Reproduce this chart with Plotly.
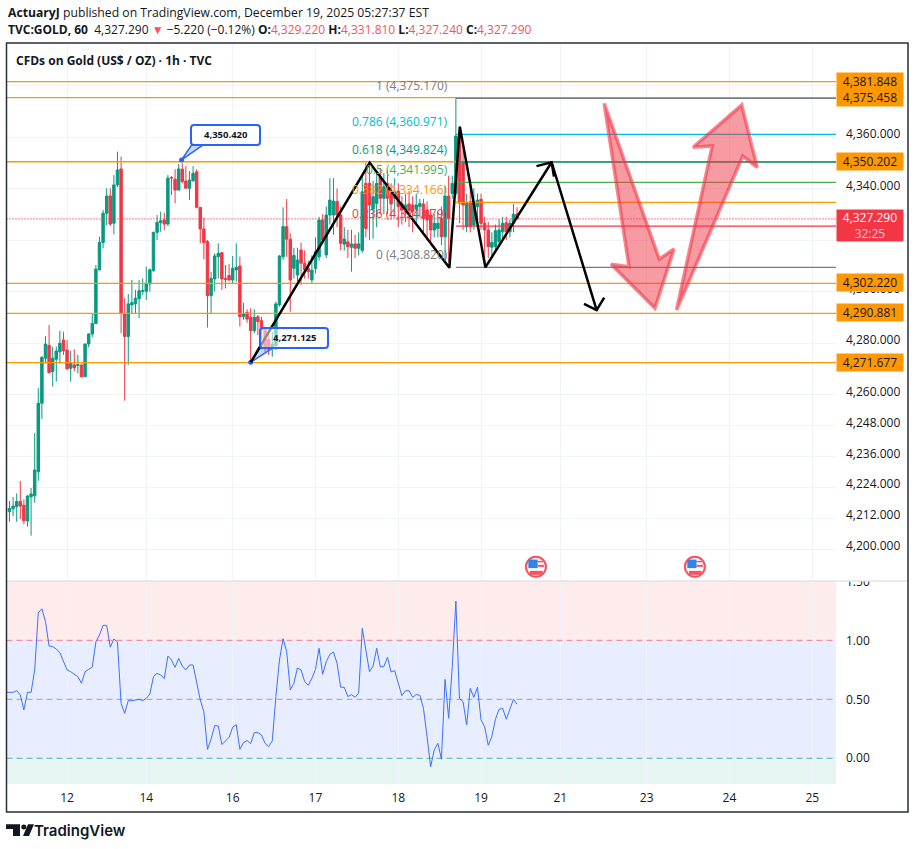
import plotly.graph_objects as go

W, H = 915, 849

# hourly candles
bar_open = [4214.5, 4215.7, 4216.5, 4218.5, 4217.0, 4210.9, 4220.3, 4220.7, 4230.0, 4256.6,
            4274.1, 4279.1, 4268.9, 4273.7, 4276.6, 4281.2, 4277.3, 4270.2, 4271.5, 4271.3,
            4271.5, 4266.9, 4279.6, 4283.5, 4287.6, 4308.4, 4319.0, 4330.4, 4337.1, 4326.5,
            4341.4, 4347.6, 4291.5, 4282.5, 4294.8, 4295.2, 4297.2, 4300.1, 4300.1, 4302.9,
            4308.1, 4323.0, 4326.7, 4327.8, 4326.2, 4344.3, 4343.6, 4339.4, 4347.5, 4342.9,
            4340.1, 4343.0, 4346.5, 4332.7, 4324.3, 4319.4, 4298.4, 4304.9, 4313.5, 4315.1,
            4305.1, 4306.2, 4304.5, 4308.4, 4309.9, 4290.2, 4291.9, 4290.0, 4284.8, 4290.2,
            4288.7, 4285.1, 4281.4, 4277.9, 4279.0, 4294.8, 4313.5, 4325.2, 4320.3, 4309.0,
            4306.4, 4316.1, 4311.0, 4309.0, 4304.5, 4309.0, 4313.5, 4327.8, 4314.2, 4329.7,
            4329.7, 4335.0, 4329.7, 4318.4, 4319.3, 4317.2, 4318.5, 4316.8, 4316.0, 4342.0,
            4342.0, 4332.0, 4334.2, 4344.6, 4336.2, 4342.0, 4338.0, 4336.2, 4339.0, 4334.2,
            4331.7, 4334.0, 4333.6, 4332.0, 4333.0, 4334.0, 4331.6, 4329.7, 4323.9, 4324.5,
            4328.4, 4321.3, 4337.1, 4338.1, 4338.1, 4360.1, 4350.4, 4325.2, 4334.9, 4325.8,
            4333.0, 4335.8, 4326.5, 4323.9, 4317.2, 4317.4, 4319.4, 4323.2, 4326.7, 4323.2,
            4326.5, 4330.1]
bar_high = [4218.7, 4220.2, 4221.6, 4226.4, 4219.3, 4221.0, 4223.7, 4245.0, 4262.5, 4275.0,
            4282.7, 4287.0, 4278.6, 4278.6, 4284.8, 4284.4, 4281.2, 4277.0, 4277.6, 4275.4,
            4271.7, 4279.8, 4283.8, 4291.5, 4310.3, 4321.3, 4331.7, 4340.1, 4340.1, 4345.2,
            4354.3, 4352.4, 4297.4, 4299.0, 4304.5, 4300.6, 4304.5, 4305.1, 4309.7, 4309.0,
            4323.2, 4329.7, 4331.0, 4330.6, 4345.2, 4344.8, 4347.5, 4349.5, 4349.8, 4348.7,
            4346.8, 4348.7, 4347.5, 4332.7, 4328.8, 4320.0, 4307.7, 4314.8, 4318.7, 4315.3,
            4310.3, 4310.6, 4313.8, 4318.7, 4313.5, 4295.7, 4293.1, 4293.5, 4293.1, 4290.9,
            4290.2, 4285.7, 4285.1, 4284.4, 4296.1, 4314.2, 4332.7, 4335.9, 4322.6, 4317.0,
            4317.0, 4319.0, 4316.0, 4312.0, 4314.0, 4321.0, 4329.0, 4330.0, 4333.0, 4344.0,
            4344.0, 4340.0, 4333.0, 4325.0, 4324.0, 4324.0, 4322.0, 4323.0, 4345.0, 4350.0,
            4350.0, 4343.0, 4347.0, 4348.0, 4346.0, 4347.0, 4342.0, 4344.0, 4342.0, 4337.0,
            4338.0, 4339.0, 4337.0, 4338.0, 4336.0, 4336.0, 4335.0, 4332.0, 4330.0, 4331.0,
            4333.0, 4341.0, 4345.0, 4345.0, 4375.0, 4364.0, 4355.0, 4338.0, 4340.0, 4340.0,
            4338.0, 4338.0, 4329.0, 4327.0, 4323.0, 4326.0, 4328.0, 4329.0, 4329.0, 4328.0,
            4334.0, 4332.7]
bar_low = [4210.6, 4212.8, 4210.6, 4211.7, 4209.7, 4208.7, 4205.2, 4218.0, 4226.5, 4250.5,
           4272.1, 4268.2, 4263.1, 4265.0, 4272.1, 4275.4, 4269.5, 4265.0, 4268.9, 4268.2,
           4266.7, 4266.9, 4278.3, 4282.2, 4287.6, 4308.4, 4316.8, 4325.8, 4325.4, 4322.2,
           4340.5, 4283.8, 4257.6, 4271.5, 4291.5, 4291.5, 4289.6, 4298.7, 4296.7, 4300.0,
           4307.7, 4320.0, 4323.2, 4323.9, 4325.4, 4337.5, 4334.2, 4339.2, 4342.0, 4340.1,
           4335.5, 4342.7, 4332.3, 4318.7, 4312.5, 4286.0, 4291.5, 4300.0, 4305.1, 4300.6,
           4301.2, 4304.2, 4303.2, 4303.8, 4286.4, 4289.0, 4287.9, 4272.8, 4283.8, 4283.1,
           4281.2, 4276.6, 4275.4, 4274.7, 4277.3, 4294.1, 4312.2, 4313.5, 4292.2, 4305.0,
           4304.0, 4302.6, 4305.0, 4305.0, 4303.0, 4307.0, 4312.0, 4318.5, 4313.0, 4326.0,
           4322.0, 4325.0, 4316.0, 4316.0, 4313.0, 4307.7, 4313.0, 4314.0, 4315.0, 4321.0,
           4320.0, 4320.5, 4325.0, 4330.0, 4330.0, 4330.0, 4328.0, 4330.0, 4325.0, 4326.0,
           4327.0, 4325.0, 4323.0, 4326.0, 4329.0, 4323.0, 4320.0, 4319.0, 4321.0, 4321.0,
           4318.0, 4312.0, 4311.5, 4336.0, 4337.0, 4326.5, 4323.9, 4323.0, 4323.0, 4324.0,
           4325.0, 4324.0, 4309.0, 4313.0, 4313.0, 4315.0, 4318.0, 4320.0, 4320.0, 4321.0,
           4323.0, 4328.1]
bar_close = [4215.8, 4216.7, 4218.5, 4216.7, 4211.0, 4220.6, 4221.4, 4230.7, 4256.6, 4274.4,
             4279.6, 4268.5, 4274.1, 4276.9, 4279.9, 4277.0, 4270.0, 4272.1, 4270.4, 4271.6,
             4266.9, 4279.6, 4283.5, 4287.6, 4308.7, 4319.1, 4330.4, 4337.1, 4326.2, 4341.4,
             4347.2, 4291.5, 4282.5, 4295.2, 4295.7, 4297.4, 4300.3, 4300.3, 4303.2, 4308.4,
             4323.0, 4326.9, 4327.5, 4326.2, 4344.0, 4344.1, 4339.4, 4347.6, 4342.7, 4340.1,
             4343.3, 4345.9, 4332.7, 4324.3, 4319.0, 4298.4, 4305.1, 4313.8, 4314.8, 4304.9,
             4304.7, 4304.5, 4309.0, 4309.4, 4290.2, 4291.3, 4289.3, 4284.8, 4290.0, 4288.3,
             4285.1, 4278.0, 4277.6, 4279.5, 4295.2, 4313.8, 4325.2, 4320.3, 4304.5, 4314.0,
             4312.2, 4311.0, 4308.4, 4307.7, 4308.3, 4315.5, 4327.8, 4320.0, 4329.7, 4335.5,
             4335.1, 4329.7, 4318.7, 4320.4, 4317.4, 4318.5, 4316.8, 4318.5, 4338.7, 4324.5,
             4333.6, 4336.8, 4342.0, 4336.2, 4340.7, 4336.2, 4334.0, 4339.0, 4333.0, 4331.7,
             4333.6, 4331.5, 4331.0, 4333.6, 4334.2, 4328.4, 4327.8, 4323.9, 4326.5, 4326.5,
             4321.3, 4337.1, 4328.4, 4342.0, 4360.4, 4334.3, 4333.6, 4334.2, 4325.2, 4334.2,
             4335.5, 4326.5, 4323.9, 4317.4, 4319.0, 4323.6, 4323.9, 4326.5, 4323.2, 4326.5,
             4330.0, 4328.2]

# lower pane oscillator, first point sits one bar left of the first candle
osc_values = [0.559, 0.559, 0.559, 0.573, 0.537, 0.410, 0.559, 0.559, 0.749, 1.234, 1.268, 1.158,
              0.952, 0.946, 0.927, 0.895, 0.819, 0.749, 0.734, 0.715, 0.692, 0.636, 0.734, 0.754,
              0.774, 0.986, 1.045, 1.127, 1.127, 0.941, 1.011, 0.986, 0.466, 0.381, 0.489, 0.489,
              0.492, 0.500, 0.489, 0.508, 0.545, 0.692, 0.720, 0.706, 0.675, 0.867, 0.833, 0.771,
              0.847, 0.782, 0.749, 0.791, 0.791, 0.636, 0.494, 0.395, 0.076, 0.161, 0.277, 0.274,
              0.116, 0.147, 0.178, 0.263, 0.285, 0.076, 0.133, 0.150, 0.124, 0.218, 0.218, 0.198,
              0.127, 0.099, 0.147, 0.523, 0.833, 1.014, 0.904, 0.579, 0.636, 0.766, 0.749, 0.650,
              0.619, 0.678, 0.754, 0.932, 0.712, 0.819, 0.881, 0.901, 0.805, 0.602, 0.602, 0.523,
              0.540, 0.517, 0.551, 1.102, 0.932, 0.734, 0.782, 0.932, 0.777, 0.777, 0.856, 0.732,
              0.743, 0.636, 0.531, 0.573, 0.573, 0.517, 0.540, 0.534, 0.424, 0.184, -0.071, 0.071,
              0.127, -0.008, 0.669, 0.339, 0.777, 1.333, 0.508, 0.480, 0.282, 0.593, 0.517, 0.602,
              0.325, 0.268, 0.110, 0.184, 0.331, 0.415, 0.424, 0.331, 0.424, 0.500, 0.458]

x_tick_bars = [16, 38, 62, 85, 108, 131, 153, 177, 200, 223]
x_tick_labels = ["12", "14", "16", "17", "18", "19", "21", "23", "24", "25"]
price_ticks = [4380, 4360, 4340, 4320, 4300, 4280, 4260, 4248, 4236, 4224, 4212, 4200]
# 4,380 and 4,320 sit fully behind the price tags
price_tick_labels = ["", "4,360.000", "4,340.000", "", "4,300.000", "4,280.000", "4,260.000",
                     "4,248.000", "4,236.000", "4,224.000", "4,212.000", "4,200.000"]
osc_ticks = [0, 0.5, 1, 1.5]

level_prices = [4381.5, 4375.3, 4350.4, 4303.2, 4291.5, 4272.4]
level_labels = ["4,381.848", "4,375.458", "4,350.202", "4,302.220", "4,290.881", "4,271.677"]

fib_prices = [4375.0, 4361.05, 4350.3, 4342.4, 4334.6, 4325.4, 4309.4]
fib_labels = ["1 (4,375.170)", "0.786 (4,360.971)", "0.618 (4,349.824)", "0.5 (4,341.995)",
              "0.382 (4,334.166)", "0.236 (4,324.479)", "0 (4,308.820)"]
fib_colors = ["#787B86", "#00BCD4", "#089981", "#4CAF50", "#FF9800", "#F23645", "#787B86"]

last_price = 4328.2

# hand drawn things on the chart, in bars and price
zig_bars = [67.0, 100.06, 122.2, 125.1, 132.2, 150.6, 163.1]
zig_prices = [4272.5, 4350.0, 4309.2, 4364.0, 4309.4, 4350.2, 4292.8]
head1_bars = [146.4, 150.6, 151.25]
head1_prices = [4348.7, 4350.2, 4344.6]
head2_bars = [159.6, 163.1, 165.2]
head2_prices = [4295.2, 4292.8, 4297.6]
pink_down_bars = [165.2, 180.5, 184.6, 179.3, 167.1, 172.1, 165.2]
pink_down_prices = [4373.1, 4312.6, 4316.5, 4293.5, 4310.6, 4309.6, 4373.1]
pink_up_bars = [185.3, 195.2, 189.9, 203.4, 207.7, 203.7, 185.3]
pink_up_prices = [4292.8, 4356.5, 4356.0, 4372.4, 4348.2, 4352.6, 4292.8]
wedge1_bars = [47.8, 50.6, 53.8, 47.8]
wedge1_prices = [4351.1, 4356.9, 4356.9, 4351.1]
wedge2_bars = [67.0, 69.6, 73.1, 67.0]
wedge2_prices = [4272.5, 4278.0, 4278.0, 4272.5]
flag_bars = [146.25, 190.4]
flag_price = 4193.1

X_START, X_END = -0.83, 229.6


def px(x):
    return x / W


def py(y):
    return 1 - y / H


def round_rect(x0, y0, x1, y1, r=3):
    return (f"M {px(x0 + r)} {py(y0)} L {px(x1 - r)} {py(y0)} Q {px(x1)} {py(y0)} {px(x1)} {py(y0 + r)} "
            f"L {px(x1)} {py(y1 - r)} Q {px(x1)} {py(y1)} {px(x1 - r)} {py(y1)} "
            f"L {px(x0 + r)} {py(y1)} Q {px(x0)} {py(y1)} {px(x0)} {py(y1 - r)} "
            f"L {px(x0)} {py(y0 + r)} Q {px(x0)} {py(y0)} {px(x0 + r)} {py(y0)} Z")


TEXT = "#131722"
FONT = "Open Sans"
GRID = "#F0F3FA"

fig = go.Figure()

bars = list(range(len(bar_open)))
fig.add_trace(go.Candlestick(
    x=bars, open=bar_open, high=bar_high, low=bar_low, close=bar_close,
    increasing=dict(line=dict(color="#089981", width=1), fillcolor="#089981"),
    decreasing=dict(line=dict(color="#F23645", width=1), fillcolor="#F23645"),
    whiskerwidth=0, xaxis="x", yaxis="y"))

for p in level_prices:
    fig.add_trace(go.Scatter(x=[X_START, X_END], y=[p, p], mode="lines",
                             line=dict(color="#FF9800", width=1.3)))
for p, c in zip(fib_prices, fib_colors):
    fig.add_trace(go.Scatter(x=[124.0, X_END], y=[p, p], mode="lines",
                             line=dict(color=c, width=1.3)))
fig.add_trace(go.Scatter(x=[X_START, X_END], y=[last_price, last_price], mode="lines",
                         line=dict(color="#F23645", width=1.2, dash="1px,2px")))

# callout pointers
for bx, by in [(wedge1_bars, wedge1_prices), (wedge2_bars, wedge2_prices)]:
    fig.add_trace(go.Scatter(x=bx, y=by, mode="lines", fill="toself", fillcolor="rgba(41,98,255,0.25)",
                             line=dict(color="#2962FF", width=1.5)))
    fig.add_trace(go.Scatter(x=[bx[0]], y=[by[0]], mode="markers",
                             marker=dict(color="#2962FF", size=5)))

for bx, by in [(zig_bars, zig_prices), (head1_bars, head1_prices), (head2_bars, head2_prices)]:
    fig.add_trace(go.Scatter(x=bx, y=by, mode="lines", line=dict(color="#000000", width=2.5)))

for bx, by in [(pink_down_bars, pink_down_prices), (pink_up_bars, pink_up_prices)]:
    fig.add_trace(go.Scatter(x=bx, y=by, mode="lines", fill="toself", fillcolor="rgba(242,54,69,0.5)",
                             line=dict(color="rgba(242,54,69,0.6)", width=3.5)))

fig.add_trace(go.Scatter(x=list(range(-1, len(osc_values) - 1)), y=osc_values, mode="lines",
                         line=dict(color="#2962FF", width=1), opacity=0.9, xaxis="x2", yaxis="y2"))

shapes = []
# lower pane bands
for y0, y1, c in [(1, 1.503, "rgba(242,54,69,0.1)"), (0, 1, "rgba(41,98,255,0.11)"),
                  (-0.218, 0, "rgba(8,153,129,0.1)")]:
    shapes.append(dict(type="rect", xref="x2", yref="y2", x0=X_START, x1=X_END, y0=y0, y1=y1,
                       fillcolor=c, line_width=0, layer="below"))
for v, c in [(1, "rgba(242,54,69,0.6)"), (0.5, "rgba(41,98,255,0.55)"), (0, "rgba(8,153,129,0.7)")]:
    shapes.append(dict(type="line", xref="x2", yref="y2", x0=X_START, x1=X_END, y0=v, y1=v,
                       line=dict(color=c, width=1, dash="6px,4px"), layer="above"))

# cut the top of the 1.50 label, pane separator, outer frame
shapes.append(dict(type="rect", xref="paper", yref="paper", x0=px(837), x1=px(906), y0=py(581), y1=py(566),
                   fillcolor="white", line_width=0, layer="above"))
shapes.append(dict(type="line", xref="paper", yref="paper", x0=px(7), x1=px(908), y0=py(581), y1=py(581),
                   line=dict(color="#E0E3EB", width=1.5), layer="above"))
shapes.append(dict(type="rect", xref="paper", yref="paper", x0=px(6.5), x1=px(908), y0=py(812), y1=py(43),
                   line=dict(color="#2A2E39", width=1.5), layer="above"))

# callout boxes
shapes.append(dict(type="path", xref="paper", yref="paper", path=round_rect(191, 125, 260, 145),
                   fillcolor="white", line=dict(color="#2962FF", width=2), layer="above"))
shapes.append(dict(type="path", xref="paper", yref="paper", path=round_rect(260, 328, 328, 348),
                   fillcolor="rgba(255,255,255,0.55)", line=dict(color="#2962FF", width=2), layer="above"))

# calendar flags
for b in flag_bars:
    base = dict(xref="x", yref="y", xsizemode="pixel", ysizemode="pixel",
                xanchor=b, yanchor=flag_price, layer="above")
    shapes.append(dict(type="circle", x0=-10, x1=10, y0=-10, y1=10, fillcolor="white",
                       line=dict(color="#F7525F", width=2), **base))
    shapes.append(dict(type="rect", x0=-7.6, x1=1.7, y0=-1.3, y1=7.3, fillcolor="#2E86E8", line_width=0, **base))
    for x0, x1, y0, y1 in [(1.7, 8, 0, 2), (1.7, 7, 4.5, 6), (-6, 6.7, -8, -4)]:
        shapes.append(dict(type="rect", x0=x0, x1=x1, y0=y0, y1=y1, fillcolor="#F7525F", line_width=0, **base))

# TradingView mark
shapes.append(dict(type="path", xref="paper", yref="paper", fillcolor="#131722", line_width=0,
                   path=f"M {px(6)} {py(824.3)} L {px(20)} {py(824.3)} L {px(20)} {py(836)} L {px(13)} {py(836)} "
                        f"L {px(13)} {py(829)} L {px(6)} {py(829)} Z"))
shapes.append(dict(type="circle", xref="paper", yref="paper", fillcolor="#131722", line_width=0,
                   x0=px(21.3), x1=px(26.3), y0=py(829.5), y1=py(824.5)))
shapes.append(dict(type="path", xref="paper", yref="paper", fillcolor="#131722", line_width=0,
                   path=f"M {px(28)} {py(824.3)} L {px(34)} {py(824.3)} L {px(29)} {py(836)} L {px(23)} {py(836)} Z"))

ann = []


def text_at(x, y, text, size=12, color=TEXT, anchor="left", weight=None):
    ann.append(dict(xref="paper", yref="paper", x=px(x), y=py(y), text=text, showarrow=False,
                    xanchor=anchor, yanchor="middle", align="left",
                    font=dict(family=FONT, size=size, color=color, weight=weight)))


RED = "#F7525F"
text_at(5.5, 12.5, "<b>ActuaryJ</b> published on TradingView.com, December 19, 2025 05:27:37 EST", 12.2)
text_at(5.5, 29.5, f"<b>TVC:GOLD, 60</b>  4,327.290 <span style='color:{RED}'>▼</span> −5.220 (−0.12%) "
                 f"<b>O:</b><span style='color:{RED}'>4,329.220</span> <b>H:</b><span style='color:{RED}'>4,331.810</span> "
                 f"<b>L:</b><span style='color:{RED}'>4,327.240</span> <b>C:</b><span style='color:{RED}'>4,327.290</span>", 12)
text_at(14, 60.5, "<b>CFDs on Gold (US$ / OZ) · 1h · TVC</b>", 12)
ann.append(dict(xref="paper", yref="paper", x=px(32), y=py(830), text="TradingView", showarrow=False,
                xanchor="left", yanchor="middle",
                font=dict(family="Inter", size=15, color="#131722", weight=600)))

for p, s, c in zip(fib_prices, fib_labels, fib_colors):
    ann.append(dict(x=122.3, y=p, xref="x", yref="y", text=s, showarrow=False, xanchor="right",
                    yanchor="middle", yshift=12.5, font=dict(family=FONT, size=12, color=c)))

for p, s in zip(level_prices, level_labels):
    ann.append(dict(xref="paper", yref="y", x=px(835.5), y=p, text=s, showarrow=False, xanchor="left",
                    yanchor="middle", bgcolor="#FF9800", width=64, height=15, borderpad=1,
                    yshift=0.5, font=dict(family=FONT, size=12, color=TEXT)))

ann.append(dict(xref="paper", yref="y", x=px(835.5), y=last_price, showarrow=False, xanchor="left",
                yanchor="middle", yshift=-7, bgcolor="#F23645", width=64, height=29, borderpad=1,
                text="4,327.290<br><span style='color:#FBC9CE'>32:25</span>", align="center",
                font=dict(family=FONT, size=12, color="white")))

ann.append(dict(xref="paper", yref="paper", x=px(225.5), y=py(134.5), text="<b>4,350.420</b>", showarrow=False,
                xanchor="center", yanchor="middle", font=dict(family=FONT, size=9.5, color=TEXT)))
ann.append(dict(xref="paper", yref="paper", x=px(294), y=py(338), text="<b>4,271.125</b>", showarrow=False,
                xanchor="center", yanchor="middle", font=dict(family=FONT, size=9.5, color=TEXT)))

x_common = dict(range=[X_START, X_END], domain=[px(6.5), px(836)], tickvals=x_tick_bars,
                gridcolor=GRID, gridwidth=1, zeroline=False, showline=False, automargin=False)

fig.update_layout(
    width=W, height=H, margin=dict(l=0, r=0, t=0, b=0), showlegend=False,
    paper_bgcolor="white", plot_bgcolor="white",
    font=dict(family=FONT, size=12, color=TEXT),
    boxgap=0.2, boxgroupgap=0.15,
    xaxis=dict(x_common, anchor="y", showticklabels=False, rangeslider=dict(visible=False)),
    xaxis2=dict(x_common, anchor="y2", matches="x", ticktext=x_tick_labels, ticks="",
                ticklabelstandoff=5, tickfont=dict(family=FONT, size=12, color=TEXT)),
    yaxis=dict(domain=[py(581), py(43)], range=[4187.6, 4396.5], side="right", tickvals=price_ticks,
               ticktext=price_tick_labels, gridcolor=GRID, zeroline=False, showline=False, anchor="x",
               ticks="", ticklabelstandoff=9, ticklabelshift=-3, automargin=False),
    yaxis2=dict(domain=[py(784), py(581)], range=[-0.218, 1.503], side="right", tickvals=osc_ticks,
                tickformat=".2f", showgrid=False, zeroline=False, showline=False, anchor="x2",
                ticks="", ticklabelstandoff=9, automargin=False),
    shapes=shapes, annotations=ann)

fig.write_html("out.html", config={"displayModeBar": False},
               post_script="document.body.style.margin='0';")
